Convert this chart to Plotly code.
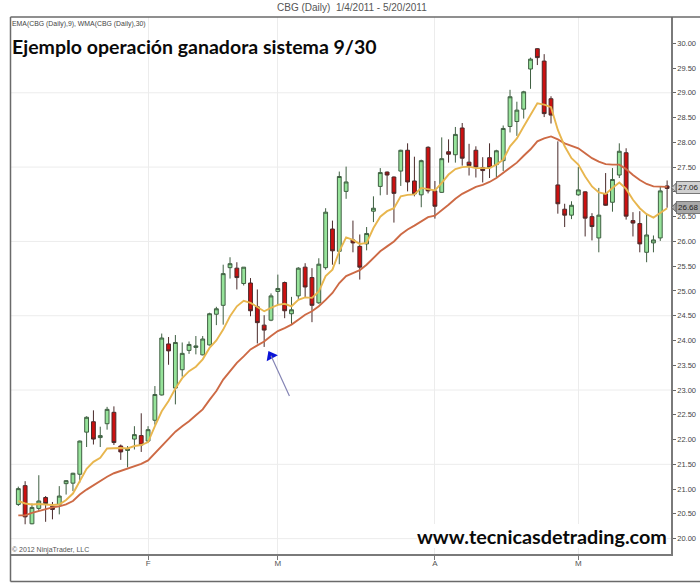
import plotly.graph_objects as go

opens = [20.69,21.07,20.30,20.61,20.83,20.65,20.69,21.11,21.12,21.30,22.15,22.36,22.04,22.32,22.55,21.87,21.78,22.01,22.08,21.97,
22.39,22.90,23.93,23.04,23.41,23.80,23.86,23.71,23.91,24.53,24.71,25.47,25.46,25.15,25.16,24.68,24.31,24.41,24.99,25.17,
24.54,24.90,25.48,25.27,24.76,25.47,26.25,25.80,27.01,26.03,25.90,25.95,26.61,27.11,27.40,27.30,27.42,27.84,27.22,26.94,
27.90,27.02,26.99,27.81,27.75,28.29,27.60,27.84,27.49,27.69,27.55,27.63,28.32,28.42,28.67,29.48,29.89,29.64,28.88,27.14,
26.65,26.53,26.94,27.00,26.50,26.07,26.96,26.79,27.34,27.79,26.42,26.36,25.78,25.97,26.07,27.12]
highs = [21.05,21.16,20.71,21.28,20.86,20.74,21.06,21.18,21.33,21.98,22.47,22.59,22.26,22.66,22.67,21.90,21.87,22.27,22.53,22.27,
23.08,24.14,24.07,24.11,23.96,23.98,24.09,24.09,24.56,24.68,25.53,25.68,25.58,25.48,25.26,25.03,24.51,24.95,25.33,25.19,
24.88,25.48,25.56,25.46,25.66,26.67,26.42,27.41,27.51,26.42,26.14,26.29,26.91,27.48,27.41,27.31,27.85,27.98,27.71,27.65,
27.92,27.22,28.10,28.06,28.31,28.39,27.97,27.92,27.70,27.98,27.85,28.34,29.06,28.82,29.04,29.71,29.90,29.78,28.93,28.02,
26.76,26.81,27.50,27.01,26.57,27.08,27.38,27.48,27.98,27.88,26.59,26.61,26.56,26.12,27.11,27.23]
lows = [20.66,20.29,20.29,20.56,20.34,20.39,20.49,20.89,20.96,21.13,21.85,21.90,21.85,22.20,21.89,21.59,21.44,21.80,21.75,21.94,
22.30,22.89,23.51,22.71,23.27,23.73,23.72,23.70,23.90,24.31,24.32,25.25,25.03,25.11,24.49,23.94,23.87,24.39,24.72,24.45,
24.32,24.84,24.86,24.37,24.74,25.43,25.53,25.54,26.86,25.78,25.23,25.82,26.39,26.93,26.94,26.38,27.12,27.01,26.91,26.69,
26.97,26.46,26.98,27.59,27.59,27.53,27.33,27.29,27.19,27.28,27.30,27.42,28.20,28.13,28.48,29.08,29.56,28.51,28.38,26.56,
26.29,26.45,26.92,26.10,26.02,25.78,26.72,26.60,27.28,26.44,26.10,25.78,25.58,25.78,26.01,26.68]
closes = [21.01,20.44,20.63,20.76,20.71,20.59,20.86,21.17,21.32,21.97,22.45,22.01,22.08,22.61,21.94,21.75,21.81,22.10,21.89,22.20,
22.91,24.05,23.79,23.96,23.74,23.92,23.89,24.03,24.54,24.64,25.35,25.55,25.27,25.48,24.60,24.36,24.21,24.90,25.05,24.60,
24.62,25.46,25.08,24.71,25.54,26.59,25.81,27.31,27.20,25.97,25.48,26.16,26.67,27.39,27.34,26.97,27.84,27.20,26.96,27.63,
27.02,26.71,27.67,27.76,28.16,27.68,27.53,27.50,27.43,27.49,27.83,28.28,28.92,28.65,29.02,29.68,29.71,28.58,28.55,26.76,
26.53,26.73,27.04,26.47,26.30,26.53,26.73,27.25,27.82,26.51,26.37,25.95,26.13,26.03,27.02,27.07]
ema9 = [20.76,20.71,20.69,20.70,20.69,20.68,20.69,20.78,20.91,21.17,21.41,21.55,21.63,21.82,21.83,21.83,21.82,21.87,21.89,21.95,
22.27,22.57,22.78,23.03,23.24,23.38,23.47,23.62,23.85,24.00,24.22,24.49,24.69,24.80,24.76,24.68,24.59,24.66,24.72,24.74,
24.69,24.82,24.87,24.86,24.99,25.30,25.43,25.80,26.08,26.03,25.95,25.97,26.27,26.50,26.61,26.67,26.91,26.94,26.95,27.08,
27.06,27.03,27.18,27.35,27.46,27.50,27.51,27.48,27.48,27.48,27.55,27.65,27.92,28.08,28.32,28.55,28.79,28.76,28.71,28.25,
27.92,27.68,27.55,27.31,27.11,26.99,26.96,27.08,27.19,27.06,26.84,26.67,26.55,26.48,26.57,26.67]
wma30 = [20.47,20.47,20.52,20.56,20.59,20.63,20.65,20.69,20.76,20.89,20.99,21.08,21.16,21.25,21.32,21.37,21.41,21.47,21.51,21.58,
21.72,21.87,22.02,22.16,22.27,22.37,22.49,22.61,22.80,22.98,23.21,23.39,23.55,23.68,23.82,23.90,23.98,24.09,24.19,24.25,
24.32,24.42,24.52,24.59,24.69,24.82,24.96,25.16,25.30,25.36,25.42,25.53,25.66,25.80,25.90,26.00,26.14,26.24,26.32,26.40,
26.49,26.52,26.64,26.74,26.86,26.96,27.03,27.10,27.14,27.20,27.28,27.38,27.48,27.59,27.73,27.86,28.02,28.08,28.12,28.06,
27.98,27.93,27.88,27.78,27.68,27.61,27.56,27.55,27.55,27.46,27.34,27.24,27.16,27.11,27.10,27.10]
days = list(range(len(closes)))

month_ticks = [19, 38, 61, 82]
month_labels = ["F", "M", "A", "M"]
grid_prices = [20.0, 21.5, 23.0, 24.5, 26.0, 27.5, 29.0]
price_ticks = [20 + 0.5 * i for i in range(21)]
price_labels = [f"{p:.2f}" for p in price_ticks]

# plot box in window pixels
L, R, T, B = 11, 671, 17, 554.5
W, H = 700, 583
px = lambda v: (v - L) / (R - L)
py = lambda v: (B - v) / (B - T)

fig = go.Figure()
fig.add_trace(go.Candlestick(
    x=days, open=opens, high=highs, low=lows, close=closes,
    increasing=dict(fillcolor="#96E39A", line=dict(color="#3F5F42", width=1)),
    decreasing=dict(fillcolor="#CC1010", line=dict(color="#4A2A2A", width=1)),
    hoverinfo="skip", showlegend=False))
fig.add_trace(go.Scatter(x=days, y=wma30, mode="lines", line=dict(color="#CD6A45", width=1.9),
                         hoverinfo="skip", showlegend=False))
fig.add_trace(go.Scatter(x=days, y=ema9, mode="lines", line=dict(color="#E8B64E", width=1.9),
                         hoverinfo="skip", showlegend=False))
fig.add_trace(go.Scatter(x=[37.0], y=[23.69], mode="markers",
                         marker=dict(symbol="triangle-up", size=11, color="#0A14D8", angle=-28),
                         hoverinfo="skip", showlegend=False))

fig.update_layout(
    width=W, height=H, autosize=False, boxgap=0.2,
    margin=dict(l=L, r=W - R, t=T, b=H - B, pad=0),
    paper_bgcolor="white", plot_bgcolor="white",
    font=dict(family="Liberation Sans, Arial, sans-serif", size=8, color="#444444"),
    xaxis=dict(range=[-1.07, 95.57], rangeslider=dict(visible=False), tickmode="array", automargin=False,
               tickvals=month_ticks, ticktext=month_labels, ticks="outside", ticklen=4,
               tickcolor="#777777", showgrid=True, gridcolor="#ECECEC", gridwidth=1,
               showline=True, linecolor="#7A7A7A", linewidth=1.5, zeroline=False,
               ticklabelstandoff=-3, tickfont=dict(size=8, color="#555555")),
    yaxis=dict(range=[19.69, 30.53], side="right", tickmode="array", tickvals=price_ticks, automargin=False,
               ticktext=price_labels, ticks="outside", ticklen=3, tickcolor="#666666",
               showgrid=False, showline=True, linecolor="#7A7A7A", linewidth=1.5, zeroline=False,
               tickfont=dict(size=7.5, color="#444444")),
)

# horizontal grid rows, referenced to the price axis and drawn beneath the marks
for g in grid_prices:
    fig.add_shape(type="line", xref="paper", yref="y", x0=0, x1=1, y0=g, y1=g,
                  line=dict(color="#ECECEC", width=1), layer="below")

# outer window frame
frame = dict(type="line", xref="paper", yref="paper", line=dict(color="#6A6A6A", width=1.5))
fig.add_shape(**frame, x0=px(10.5), x1=px(10.5), y0=py(17), y1=py(582))
fig.add_shape(**frame, x0=px(10.5), x1=px(700), y0=py(17), y1=py(17))
fig.add_shape(**frame, x0=px(10.5), x1=px(700), y0=py(582), y1=py(582))

def note(text, x, y, size, color="#333333", anchor="left", family=None, bold=False, bg=None, border=None):
    t = f"<b>{text}</b>" if bold else text
    fig.add_annotation(text=t, xref="paper", yref="paper", x=px(x), y=py(y), xanchor=anchor,
                       yanchor="middle", showarrow=False,
                       font=dict(size=size, color=color, family=family or "Liberation Sans, Arial, sans-serif"),
                       bgcolor=bg, bordercolor=border, borderwidth=1 if border else 0, borderpad=1 if border else 0)

def price_tag(y, fill):
    pts = [(671.5, y), (676, y - 4.5), (676, y + 4.5)]
    path = "M " + " L ".join(f"{px(a):.5f},{py(b):.5f}" for a, b in pts) + " Z"
    fig.add_shape(type="path", xref="paper", yref="paper", path=path, fillcolor=fill,
                  line=dict(color="#666666", width=1), layer="above")

price_tag(188, "#D0D0D0")
price_tag(207.5, "#A8A8A8")

note("CBG (Daily)  1/4/2011 - 5/20/2011", 352, 7.5, 10, "#555555", "center")
note("EMA(CBG (Daily),9), WMA(CBG (Daily),30)", 12, 24, 6.9, "#444444")
note("Ejemplo operación ganadora sistema 9/30", 12, 46.5, 19.5, "#0A0A0A", family="Lato", bold=True)
note("www.tecnicasdetrading.com", 417, 536, 19.8, "#0A0A0A", family="Lato", bold=True, bg="white")
note("© 2012 NinjaTrader, LLC", 12, 550, 7, "#555555")
note("27.06", 675.5, 188, 8, "#222222", bg="#D0D0D0", border="#777777")
note("26.68", 675.5, 207.5, 8, "#222222", bg="#A8A8A8", border="#777777")

# annotation arrow shaft
fig.add_annotation(x=37.0, y=23.69, ax=39.8, ay=22.85, xref="x", yref="y", axref="x", ayref="y",
                   text="", showarrow=True, arrowhead=0, arrowwidth=1.2, arrowcolor="#8585B5")

fig.write_html("out.html", config={"displayModeBar": False},
               post_script="document.body.style.margin='0';document.documentElement.style.overflow='hidden';")
